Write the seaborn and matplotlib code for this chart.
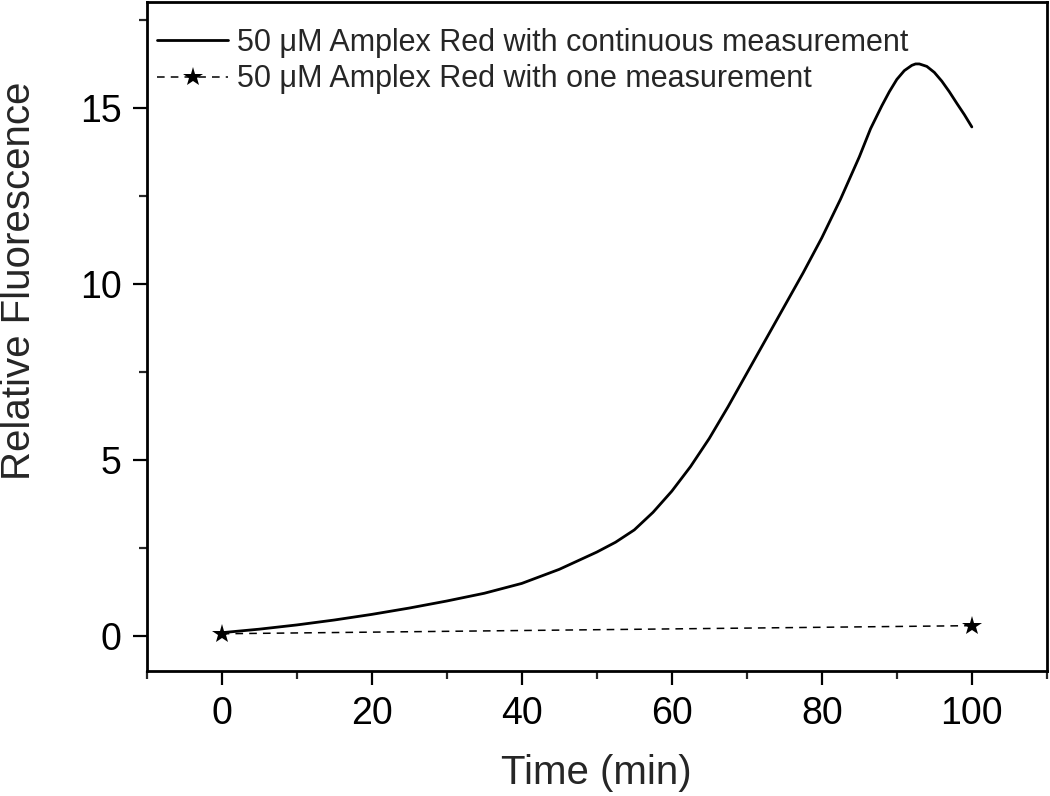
import matplotlib
matplotlib.use("Agg")
import matplotlib.pyplot as plt
import seaborn as sns
import pandas as pd
from matplotlib.ticker import MultipleLocator

time_cont = [0, 5, 10, 15, 20, 25, 30, 35, 40, 45, 50, 52.5, 55, 57.5, 60, 62.5,
             65, 67.5, 70, 72.5, 75, 77.5, 80, 82.5, 85, 86.5, 88, 89, 90, 91,
             92, 92.5, 93, 94, 95, 96, 97, 98, 99, 100]
fluor_cont = [0.08, 0.18, 0.3, 0.44, 0.6, 0.78, 0.98, 1.2, 1.48, 1.88, 2.37, 2.65,
              3.0, 3.5, 4.1, 4.8, 5.6, 6.5, 7.45, 8.4, 9.35, 10.3, 11.3, 12.4,
              13.6, 14.4, 15.05, 15.45, 15.8, 16.05, 16.2, 16.24, 16.24, 16.17,
              16.0, 15.75, 15.45, 15.12, 14.8, 14.45]

# Single measurement points
time_one = [0, 100]
fluor_one = [0.05, 0.28]

label_cont = "50 \u03bcM Amplex Red with continuous measurement"
label_one = "50 \u03bcM Amplex Red with one measurement"

df_cont = pd.DataFrame({"time": time_cont, "fluor": fluor_cont})
df_one = pd.DataFrame({"time": time_one, "fluor": fluor_one})

sns.set_style("ticks")
plt.rcParams["font.family"] = ["Liberation Sans", "DejaVu Sans"]

fig = plt.figure(figsize=(10.5, 7.96), dpi=100)
ax = fig.add_axes([0.1397, 0.1574, 0.8573, 0.8401])

sns.lineplot(data=df_cont, x="time", y="fluor", ax=ax, color="black",
             linewidth=2.0, label=label_cont, estimator=None, sort=False)
sns.lineplot(data=df_one, x="time", y="fluor", ax=ax, color="black",
             linewidth=1.1, linestyle=(0, (5, 4)), marker="*", markersize=15,
             markeredgewidth=0, label=label_one, estimator=None, sort=False)

ax.set_xlim(-10, 110)
ax.set_ylim(-1, 18)
ax.xaxis.set_major_locator(MultipleLocator(20))
ax.xaxis.set_minor_locator(MultipleLocator(10))
ax.yaxis.set_major_locator(MultipleLocator(5))
ax.yaxis.set_minor_locator(MultipleLocator(2.5))

ax.tick_params(which="major", direction="out", length=10, width=1.6,
               labelsize=27, pad=8, colors="black")
ax.tick_params(which="minor", direction="out", length=6, width=1.6)
for s in ax.spines.values():
    s.set_linewidth(2.0)
    s.set_color("black")

ax.set_xlabel("Time (min)", fontsize=29, labelpad=16)
ax.set_ylabel("Relative Fluorescence", fontsize=29, labelpad=30)
ax.yaxis.label.set_y(0.583)

leg = ax.legend(loc="upper left", bbox_to_anchor=(0.0, 1.0 - 15 / 669),
                frameon=False, fontsize=22, handlelength=2.3,
                handletextpad=0.3, labelspacing=0.22, borderaxespad=0.0,
                borderpad=0.35)

fig.savefig("out.png", dpi=100)
